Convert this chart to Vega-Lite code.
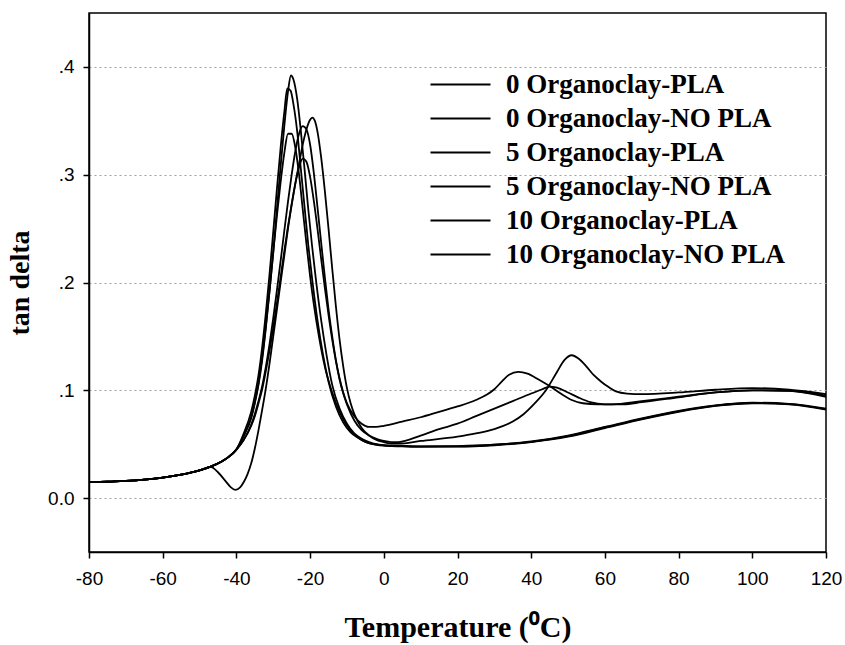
{
"$schema": "https://vega.github.io/schema/vega-lite/v6.json",
"width": 737, "height": 539,
"autosize": {"type": "none"},
"padding": {"left": 89, "top": 13, "right": 19, "bottom": 93},
"background": "white",
"config": {"view": {"stroke": "black", "strokeWidth": 1.5}, "font": "Liberation Sans"},
"datasets": {
"d0p": [
{"t":-80,"v":0.015},{"t":-75,"v":0.0152},{"t":-70,"v":0.016},{"t":-65,"v":0.0172},{"t":-60,"v":0.019},{"t":-55,"v":0.0218},{"t":-50,"v":0.0258},{"t":-47,"v":0.029},{"t":-45,"v":0.024},{"t":-43,"v":0.016},{"t":-41.5,"v":0.010},{"t":-40.3,"v":0.0077},{"t":-39,"v":0.010},{"t":-38,"v":0.015},{"t":-37,"v":0.022},{"t":-36,"v":0.032},{"t":-35,"v":0.046},{"t":-34,"v":0.063},{"t":-33,"v":0.082},{"t":-32,"v":0.102},{"t":-31,"v":0.125},{"t":-30,"v":0.150},{"t":-29,"v":0.175},{"t":-28,"v":0.200},{"t":-27,"v":0.225},{"t":-26,"v":0.250},{"t":-25,"v":0.272},{"t":-24,"v":0.292},{"t":-23,"v":0.310},{"t":-22,"v":0.328},{"t":-21,"v":0.342},{"t":-20,"v":0.351},{"t":-19.4,"v":0.353},{"t":-18.7,"v":0.350},{"t":-18,"v":0.340},{"t":-17,"v":0.316},{"t":-16,"v":0.285},{"t":-15,"v":0.250},{"t":-14,"v":0.213},{"t":-13,"v":0.178},{"t":-12,"v":0.147},{"t":-11,"v":0.122},{"t":-10,"v":0.102},{"t":-9,"v":0.088},{"t":-8,"v":0.078},{"t":-6,"v":0.065},{"t":-4,"v":0.058},{"t":-2,"v":0.054},{"t":0,"v":0.052},{"t":2,"v":0.0505},{"t":4,"v":0.0505},{"t":10,"v":0.053},{"t":20,"v":0.057},{"t":25,"v":0.060},{"t":30,"v":0.064},{"t":35,"v":0.071},{"t":38,"v":0.078},{"t":41,"v":0.088},{"t":44,"v":0.100},{"t":47,"v":0.117},{"t":49,"v":0.128},{"t":51,"v":0.1325},{"t":53,"v":0.129},{"t":55,"v":0.122},{"t":57,"v":0.114},{"t":59,"v":0.108},{"t":61,"v":0.103},{"t":63,"v":0.099},{"t":66,"v":0.097},{"t":70,"v":0.0965},{"t":80,"v":0.098},{"t":90,"v":0.1005},{"t":100,"v":0.102},{"t":110,"v":0.1005},{"t":120,"v":0.0965}
],
"d0n": [
{"t":-80,"v":0.015},{"t":-75,"v":0.0152},{"t":-70,"v":0.016},{"t":-65,"v":0.0172},{"t":-60,"v":0.019},{"t":-55,"v":0.0218},{"t":-50,"v":0.0258},{"t":-47,"v":0.0292},{"t":-44,"v":0.034},{"t":-42,"v":0.0385},{"t":-40,"v":0.045},{"t":-38,"v":0.058},{"t":-36,"v":0.074},{"t":-35,"v":0.088},{"t":-34,"v":0.105},{"t":-33,"v":0.128},{"t":-32,"v":0.158},{"t":-31,"v":0.192},{"t":-30,"v":0.228},{"t":-29,"v":0.268},{"t":-28,"v":0.308},{"t":-27,"v":0.345},{"t":-26,"v":0.377},{"t":-25.2,"v":0.392},{"t":-24.5,"v":0.388},{"t":-23.5,"v":0.370},{"t":-22.5,"v":0.340},{"t":-21.5,"v":0.305},{"t":-20.5,"v":0.268},{"t":-19.5,"v":0.235},{"t":-18.5,"v":0.205},{"t":-17,"v":0.165},{"t":-15.5,"v":0.132},{"t":-14,"v":0.105},{"t":-12,"v":0.083},{"t":-10,"v":0.069},{"t":-8,"v":0.060},{"t":-6,"v":0.055},{"t":-4,"v":0.052},{"t":-2,"v":0.050},{"t":0,"v":0.049},{"t":5,"v":0.048},{"t":10,"v":0.0478},{"t":20,"v":0.0478},{"t":30,"v":0.049},{"t":40,"v":0.052},{"t":50,"v":0.057},{"t":60,"v":0.065},{"t":70,"v":0.073},{"t":80,"v":0.080},{"t":90,"v":0.0855},{"t":100,"v":0.088},{"t":110,"v":0.087},{"t":120,"v":0.082}
],
"d5p": [
{"t":-80,"v":0.015},{"t":-75,"v":0.0152},{"t":-70,"v":0.016},{"t":-65,"v":0.0172},{"t":-60,"v":0.019},{"t":-55,"v":0.0218},{"t":-50,"v":0.0258},{"t":-47,"v":0.0292},{"t":-44,"v":0.034},{"t":-42,"v":0.0385},{"t":-40,"v":0.045},{"t":-38,"v":0.054},{"t":-36,"v":0.068},{"t":-35,"v":0.078},{"t":-34,"v":0.090},{"t":-33,"v":0.104},{"t":-32,"v":0.122},{"t":-31,"v":0.143},{"t":-30,"v":0.167},{"t":-29,"v":0.193},{"t":-28,"v":0.220},{"t":-27,"v":0.248},{"t":-26,"v":0.275},{"t":-25,"v":0.300},{"t":-24,"v":0.322},{"t":-23,"v":0.338},{"t":-22,"v":0.345},{"t":-21,"v":0.342},{"t":-20,"v":0.328},{"t":-19,"v":0.302},{"t":-18,"v":0.270},{"t":-17,"v":0.237},{"t":-16,"v":0.205},{"t":-15,"v":0.175},{"t":-14,"v":0.150},{"t":-13,"v":0.128},{"t":-12,"v":0.111},{"t":-11,"v":0.098},{"t":-10,"v":0.088},{"t":-8,"v":0.076},{"t":-6,"v":0.069},{"t":-4,"v":0.066},{"t":-2,"v":0.066},{"t":0,"v":0.067},{"t":5,"v":0.071},{"t":10,"v":0.075},{"t":15,"v":0.080},{"t":20,"v":0.085},{"t":25,"v":0.091},{"t":28,"v":0.096},{"t":30,"v":0.101},{"t":32,"v":0.108},{"t":34,"v":0.1145},{"t":36.5,"v":0.117},{"t":39,"v":0.1155},{"t":42,"v":0.110},{"t":45,"v":0.104},{"t":48,"v":0.097},{"t":51,"v":0.091},{"t":54,"v":0.088},{"t":58,"v":0.087},{"t":62,"v":0.087},{"t":70,"v":0.090},{"t":80,"v":0.094},{"t":90,"v":0.098},{"t":100,"v":0.100},{"t":110,"v":0.0995},{"t":120,"v":0.094}
],
"d5n": [
{"t":-80,"v":0.015},{"t":-75,"v":0.0152},{"t":-70,"v":0.016},{"t":-65,"v":0.0172},{"t":-60,"v":0.019},{"t":-55,"v":0.0218},{"t":-50,"v":0.0258},{"t":-47,"v":0.0292},{"t":-44,"v":0.034},{"t":-42,"v":0.0385},{"t":-40,"v":0.045},{"t":-38,"v":0.060},{"t":-36,"v":0.080},{"t":-35,"v":0.095},{"t":-34,"v":0.114},{"t":-33,"v":0.140},{"t":-32,"v":0.172},{"t":-31,"v":0.208},{"t":-30,"v":0.247},{"t":-29,"v":0.287},{"t":-28,"v":0.325},{"t":-27,"v":0.358},{"t":-26.2,"v":0.380},{"t":-25.3,"v":0.378},{"t":-24.5,"v":0.365},{"t":-23.5,"v":0.340},{"t":-22.5,"v":0.305},{"t":-21.5,"v":0.270},{"t":-20.5,"v":0.235},{"t":-19.5,"v":0.205},{"t":-18,"v":0.165},{"t":-16.5,"v":0.133},{"t":-15,"v":0.108},{"t":-13,"v":0.085},{"t":-11,"v":0.070},{"t":-9,"v":0.061},{"t":-7,"v":0.056},{"t":-5,"v":0.052},{"t":-3,"v":0.050},{"t":0,"v":0.049},{"t":5,"v":0.0485},{"t":10,"v":0.048},{"t":20,"v":0.048},{"t":30,"v":0.0495},{"t":40,"v":0.0525},{"t":50,"v":0.058},{"t":60,"v":0.066},{"t":70,"v":0.074},{"t":80,"v":0.081},{"t":90,"v":0.086},{"t":100,"v":0.0885},{"t":110,"v":0.0875},{"t":120,"v":0.083}
],
"d10p": [
{"t":-80,"v":0.015},{"t":-75,"v":0.0152},{"t":-70,"v":0.016},{"t":-65,"v":0.0172},{"t":-60,"v":0.019},{"t":-55,"v":0.0218},{"t":-50,"v":0.0258},{"t":-47,"v":0.0292},{"t":-44,"v":0.034},{"t":-42,"v":0.0385},{"t":-40,"v":0.045},{"t":-38,"v":0.054},{"t":-36,"v":0.067},{"t":-35,"v":0.076},{"t":-34,"v":0.088},{"t":-33,"v":0.101},{"t":-32,"v":0.118},{"t":-31,"v":0.137},{"t":-30,"v":0.158},{"t":-29,"v":0.181},{"t":-28,"v":0.205},{"t":-27,"v":0.229},{"t":-26,"v":0.252},{"t":-25,"v":0.273},{"t":-24,"v":0.292},{"t":-23,"v":0.307},{"t":-22,"v":0.315},{"t":-21,"v":0.312},{"t":-20,"v":0.298},{"t":-19,"v":0.276},{"t":-18,"v":0.250},{"t":-17,"v":0.222},{"t":-16,"v":0.195},{"t":-15,"v":0.170},{"t":-14,"v":0.147},{"t":-13,"v":0.127},{"t":-12,"v":0.110},{"t":-11,"v":0.097},{"t":-10,"v":0.087},{"t":-8,"v":0.072},{"t":-6,"v":0.063},{"t":-4,"v":0.058},{"t":-2,"v":0.055},{"t":0,"v":0.053},{"t":2,"v":0.052},{"t":4,"v":0.052},{"t":10,"v":0.058},{"t":15,"v":0.064},{"t":20,"v":0.069},{"t":25,"v":0.076},{"t":30,"v":0.083},{"t":35,"v":0.090},{"t":40,"v":0.097},{"t":43,"v":0.101},{"t":45,"v":0.1035},{"t":47,"v":0.1025},{"t":50,"v":0.098},{"t":53,"v":0.093},{"t":56,"v":0.089},{"t":60,"v":0.087},{"t":65,"v":0.087},{"t":70,"v":0.089},{"t":80,"v":0.0935},{"t":90,"v":0.098},{"t":100,"v":0.100},{"t":110,"v":0.0995},{"t":120,"v":0.095}
],
"d10n": [
{"t":-80,"v":0.015},{"t":-75,"v":0.0152},{"t":-70,"v":0.016},{"t":-65,"v":0.0172},{"t":-60,"v":0.019},{"t":-55,"v":0.0218},{"t":-50,"v":0.0258},{"t":-47,"v":0.0292},{"t":-44,"v":0.034},{"t":-42,"v":0.0385},{"t":-40,"v":0.045},{"t":-38,"v":0.058},{"t":-36,"v":0.075},{"t":-35,"v":0.089},{"t":-34,"v":0.107},{"t":-33,"v":0.131},{"t":-32,"v":0.160},{"t":-31,"v":0.193},{"t":-30,"v":0.228},{"t":-29,"v":0.262},{"t":-28,"v":0.293},{"t":-27,"v":0.320},{"t":-26,"v":0.338},{"t":-25,"v":0.338},{"t":-24,"v":0.325},{"t":-23,"v":0.300},{"t":-22,"v":0.268},{"t":-21,"v":0.236},{"t":-20,"v":0.206},{"t":-19,"v":0.180},{"t":-17.5,"v":0.148},{"t":-16,"v":0.122},{"t":-14,"v":0.098},{"t":-12,"v":0.080},{"t":-10,"v":0.067},{"t":-8,"v":0.059},{"t":-6,"v":0.054},{"t":-4,"v":0.051},{"t":-2,"v":0.0495},{"t":0,"v":0.0488},{"t":5,"v":0.0482},{"t":10,"v":0.0478},{"t":20,"v":0.0482},{"t":30,"v":0.0495},{"t":40,"v":0.0522},{"t":50,"v":0.0575},{"t":60,"v":0.0655},{"t":70,"v":0.0735},{"t":80,"v":0.0805},{"t":90,"v":0.0858},{"t":100,"v":0.0882},{"t":110,"v":0.0872},{"t":120,"v":0.0825}
]
},
"layer": [
{"data": {"name": "d0p"}, "transform": [{"calculate": "'0 Organoclay-PLA'", "as": "s"}], "mark": {"type": "line", "interpolate": "monotone"}},
{"data": {"name": "d0n"}, "transform": [{"calculate": "'0 Organoclay-NO PLA'", "as": "s"}], "mark": {"type": "line", "interpolate": "monotone"}},
{"data": {"name": "d5p"}, "transform": [{"calculate": "'5 Organoclay-PLA'", "as": "s"}], "mark": {"type": "line", "interpolate": "monotone"}},
{"data": {"name": "d5n"}, "transform": [{"calculate": "'5 Organoclay-NO PLA'", "as": "s"}], "mark": {"type": "line", "interpolate": "monotone"}},
{"data": {"name": "d10p"}, "transform": [{"calculate": "'10 Organoclay-PLA'", "as": "s"}], "mark": {"type": "line", "interpolate": "monotone"}},
{"data": {"name": "d10n"}, "transform": [{"calculate": "'10 Organoclay-NO PLA'", "as": "s"}], "mark": {"type": "line", "interpolate": "monotone"}}
],
"encoding": {
"x": {"field": "t", "type": "quantitative",
 "scale": {"domain": [-80, 120], "nice": false, "zero": false},
 "axis": {"values": [-80,-60,-40,-20,0,20,40,60,80,100,120], "labelExpr": "'' + datum.value", "grid": false, "labelFlush": false, "labelOverlap": false,
  "title": "Temperature (⁰C)", "titleFont": "Liberation Serif", "titleFontWeight": "bold", "titleFontSize": 30, "titleColor": "black", "titlePadding": 24,
  "labelFont": "Liberation Sans", "labelFontSize": 19, "labelColor": "black", "labelPadding": 11,
  "domainColor": "black", "domainWidth": 1.5, "tickColor": "black", "tickWidth": 1.5, "tickSize": 6}},
"y": {"field": "v", "type": "quantitative",
 "scale": {"domain": [-0.05, 0.45], "nice": false, "zero": false},
 "axis": {"values": [0, 0.1, 0.2, 0.3, 0.4], "labelExpr": "datum.value == 0 ? '0.0' : '.' + format(round(datum.value * 10), 'd')",
  "grid": true, "gridDash": [2, 3], "gridColor": "#a0a0a0", "gridWidth": 1,
  "title": "tan delta", "titleFont": "Liberation Serif", "titleFontWeight": "bold", "titleFontSize": 28, "titleColor": "black", "titlePadding": 13,
  "labelFont": "Liberation Sans", "labelFontSize": 19, "labelColor": "black", "labelPadding": 9,
  "domainColor": "black", "domainWidth": 1.5, "tickColor": "black", "tickWidth": 1.5, "tickSize": 6}},
"color": {"field": "s", "type": "nominal",
 "scale": {"domain": ["0 Organoclay-PLA", "0 Organoclay-NO PLA", "5 Organoclay-PLA", "5 Organoclay-NO PLA", "10 Organoclay-PLA", "10 Organoclay-NO PLA"],
  "range": ["black", "black", "black", "black", "black", "black"]},
 "legend": {"title": null, "orient": "none", "legendX": 358, "legendY": 58, "padding": 0,
  "symbolType": "M-3,0L3,0", "symbolSize": 400, "symbolStrokeWidth": 2, "symbolStrokeColor": "black",
  "labelFont": "Liberation Serif", "labelFontWeight": "bold", "labelFontSize": 27, "labelColor": "black",
  "labelOffset": 32, "rowPadding": 6, "labelLimit": 500}},
"strokeWidth": {"value": 1.8}
}
}
